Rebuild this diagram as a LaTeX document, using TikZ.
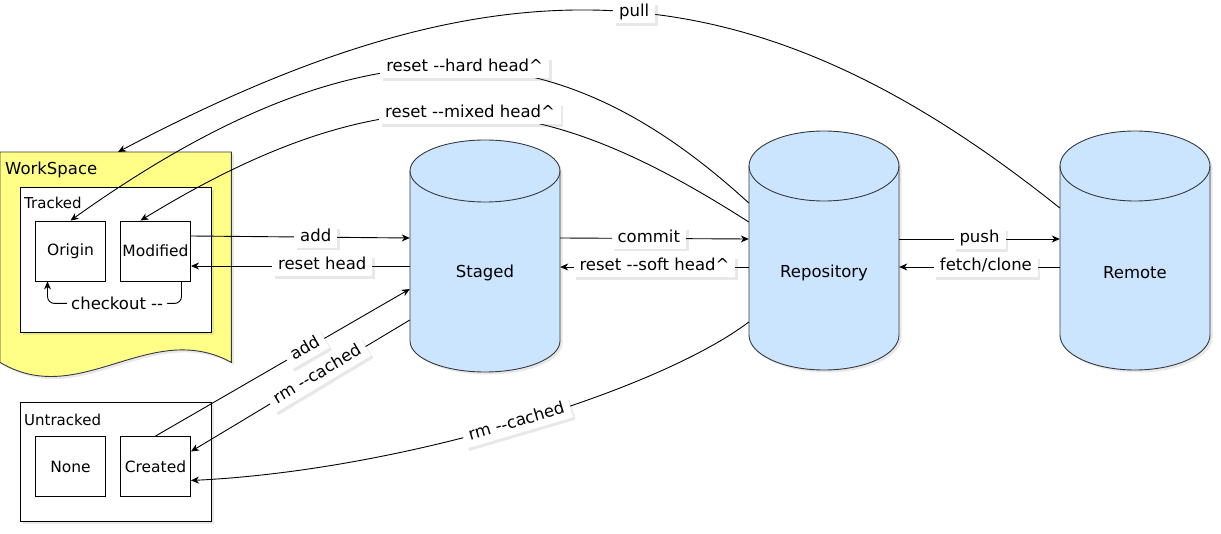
\documentclass[tikz,border=0pt]{standalone}
\usepackage{fontspec}
\setmainfont{DejaVu Sans}
\usetikzlibrary{positioning,calc,shadows,backgrounds,arrows.meta}

\definecolor{dbblue}{RGB}{204,229,255}
\definecolor{wsyellow}{RGB}{255,255,136}
\definecolor{edgegray}{RGB}{54,57,61}

\newcommand{\lblfont}{\fontsize{16.5}{19}\selectfont}
\newcommand{\boxfont}{\fontsize{15.5}{18}\selectfont}
\newcommand{\grpfont}{\fontsize{15}{17}\selectfont}
\newcommand{\twodash}{-\kern0pt-}

\tikzset{
  softshadow/.style={drop shadow={opacity=0.18, shadow xshift=2.5pt, shadow yshift=-2.5pt}},
  lbl/.style={fill=white, inner xsep=6pt, inner ysep=2.5pt, text height=12pt, text depth=4pt,
    font=\lblfont, softshadow},
  lblplain/.style={fill=white, inner xsep=4pt, inner ysep=2pt, font=\lblfont},
  flow/.style={draw=black, line width=0.9pt, -{Stealth[length=8pt,width=7pt,inset=2.5pt]}},
  state/.style={draw=black, fill=white, line width=0.9pt, minimum width=70pt,
    minimum height=60pt, inner sep=0pt, font=\boxfont},
  group/.style={draw=black, fill=white, line width=0.9pt, minimum width=191pt,
    inner sep=0pt, anchor=north west, softshadow},
  grouplbl/.style={anchor=north west, inner sep=0pt, xshift=4pt, yshift=-10pt, font=\grpfont},
  dbbody/.style={fill=dbblue, draw=edgegray, line width=0.9pt, softshadow},
  dbline/.style={draw=edgegray, line width=0.9pt},
  dbtext/.style={minimum width=150pt, inner sep=0pt, font=\lblfont}
}

\begin{document}
\begin{tikzpicture}[x=1pt, y=-1pt]
  \useasboundingbox (0,0) rectangle (1221,534);

  % work space with tracked files
  \node[anchor=north west, minimum width=231pt, minimum height=210pt, inner sep=0pt,
    label={[grouplbl, xshift=1pt, font=\lblfont]north west:WorkSpace}] (ws) at (0,152) {};
  \begin{scope}[on background layer]
    \path[fill=wsyellow, draw=edgegray, line width=0.9pt, softshadow]
      (ws.north west) -- (ws.north east) -- (ws.south east)
      .. controls (150,318) and (80,410) .. (ws.south west) -- cycle;
  \end{scope}
  \node[group, minimum height=145pt, label={[grouplbl]north west:Tracked}] (tracked) at (20,187) {};
  \node[state] (origin) at (70.5,251) {Origin};
  \node[state] (modified) at (155.5,251) {Modified};

  % untracked files
  \node[group, minimum height=119pt, label={[grouplbl, yshift=-2pt]north west:Untracked}] (untracked) at (20,402) {};
  \node[state] (none) at (70.5,466.5) {None};
  \node[state] (created) at (155.5,466.5) {Created};

  % databases
  \foreach \nm/\txt/\cx/\yt/\yb/\ry in {staged/Staged/485/140/372/31,
      repo/Repository/824/131/370/35, remote/Remote/1135/131/370/35}{
    \path[dbbody] (\cx-75,\yt+\ry) -- (\cx-75,\yb-\ry)
      arc[start angle=180, end angle=360, x radius=75pt, y radius=\ry*1pt]
      -- (\cx+75,\yt+\ry)
      arc[start angle=0, end angle=180, x radius=75pt, y radius=\ry*1pt] -- cycle;
    \draw[dbline] (\cx-75,\yt+\ry)
      arc[start angle=180, end angle=360, x radius=75pt, y radius=\ry*1pt];
    \node[dbtext] (\nm) at (\cx,273) {\txt};
  }

  % straight commands
  \draw[flow] ($(modified.east)+(0,-15)$) -- node[lbl, pos=0.57] {add} ($(staged.west)+(0,-35)$);
  \draw[flow] ($(staged.west)+(0,-7)$) -- node[lbl, pos=0.4] {reset head} ($(modified.east)+(0,15)$);
  \draw[flow] ($(staged.east)+(0,-35)$) -- node[lbl, pos=0.47] {commit} ($(repo.west)+(0,-34)$);
  \draw[flow] ($(repo.west)+(0,-6)$) -- node[lbl] {reset \twodash soft head\textasciicircum} ($(staged.east)+(0,-6)$);
  \draw[flow] ($(repo.east)+(0,-34)$) -- node[lbl] {push} ($(remote.west)+(0,-34)$);
  \draw[flow] ($(remote.west)+(0,-6)$) -- node[lbl, pos=0.46] {fetch/clone} ($(repo.east)+(0,-6)$);
  \draw[flow] (created.north) -- node[lbl, sloped, pos=0.59] {add} ($(staged.west)+(0,16)$);
  \draw[flow] ($(staged.west)+(0,47)$) -- node[lbl, sloped, pos=0.42] {rm \twodash cached} ($(created.east)+(0,-15)$);

  % curved commands
  \draw[flow] ($(repo.west)+(0,49)$) .. controls (659,390) and (406,470) .. ($(created.east)+(0,14)$)
    node[lbl, sloped, midway] {rm \twodash cached};
  \draw[flow] ($(repo.west)+(0,-70)$) .. controls (577.5,46.4) and (388.5,-6.4) .. (origin.north)
    node[lbl, midway] {reset \twodash hard head\textasciicircum};
  \draw[flow] ($(repo.west)+(0,-51)$) .. controls (553,97) and (404,59) .. ($(modified.north)+(-15,0)$)
    node[lbl, midway] {reset \twodash mixed head\textasciicircum};
  \draw[flow] ($(remote.west)+(0,-65)$) .. controls (750,-40) and (501,-50) .. ($(ws.north west)+(118,0)$)
    node[lbl, pos=0.48] {pull};

  % checkout loop
  \draw[flow, rounded corners=7pt] ($(modified.south)+(26,0)$) |- ($(origin.south)+(-23,22)$)
    node[lblplain, pos=0.74] {checkout \twodash} -- ($(origin.south)+(-23,0)$);
\end{tikzpicture}
\end{document}
